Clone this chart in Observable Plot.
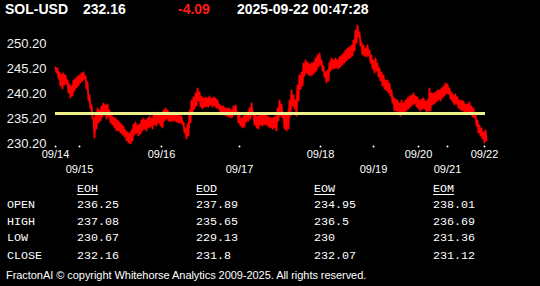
<!DOCTYPE html>
<html>
<head>
<meta charset="utf-8">
<script src="https://cdn.jsdelivr.net/npm/d3@7"></script>
<script src="https://cdn.jsdelivr.net/npm/@observablehq/plot@0.6"></script>
<style>
  html, body { margin: 0; padding: 0; background: #000; }
  #root { position: relative; width: 540px; height: 286px; background: #000; overflow: hidden; font-family: "Liberation Sans", Arial, sans-serif; color: #fff; }
  .hd { position: absolute; top: 1px; font-weight: bold; font-size: 14px; line-height: 16px; white-space: nowrap; }
  .tb { position: absolute; font-family: "Liberation Mono", "DejaVu Sans Mono", monospace; font-size: 11.7px; line-height: 14px; white-space: nowrap; color: #fff; }
  #chart { position: absolute; left: 0; top: 22px; }
  #foot { position: absolute; left: 6px; top: 268px; font-size: 11px; line-height: 14px; white-space: nowrap; letter-spacing: -0.05px; }
</style>
</head>
<body>
<div id="root"></div>
<script>
// ---- header ----
const symbol = "SOL-USD";
const lastPrice = "232.16";
const change = "-4.09";
const stamp = "2025-09-22 00:47:28";

// ---- price trace: band top/bottom of the noisy line, equally spaced samples ----
const hi = [245.4,245.2,244.4,244.0,244.2,243.8,242.8,242.0,241.6,242.8,243.2,243.6,243.8,244.2,244.4,243.6,242.4,239.8,237.8,235.2,
235.8,237.2,236.8,237.6,238.2,237.8,238.0,236.8,236.0,235.4,235.2,234.8,234.4,234.0,233.6,232.8,232.4,232.2,232.8,234.0,
234.4,233.8,234.0,234.8,235.2,234.8,235.2,235.6,235.2,235.8,236.2,236.4,235.8,236.2,236.8,237.2,236.8,236.4,236.2,236.4,
236.0,236.0,235.8,235.6,234.4,233.2,234.0,236.8,238.8,239.4,240.2,241.2,240.4,239.6,239.2,239.4,239.2,239.6,239.2,239.4,
239.2,238.8,238.0,237.6,237.6,237.2,237.2,237.2,236.8,237.6,237.8,236.4,235.8,235.2,235.6,236.2,236.4,237.2,238.2,236.4,
235.8,235.6,236.0,235.8,236.2,236.0,235.6,235.4,235.2,235.4,235.6,237.2,238.8,238.0,236.4,236.0,236.4,238.8,240.8,239.8,
238.8,241.8,243.8,244.4,246.2,246.8,246.4,246.0,246.2,246.4,247.2,247.8,248.2,246.8,245.6,244.4,244.8,246.4,247.2,246.8,
247.2,246.8,247.4,247.8,248.2,248.8,249.2,249.4,249.8,250.8,252.8,253.8,252.4,250.4,249.8,249.2,249.8,248.8,247.8,246.8,
247.2,246.2,245.2,244.4,243.8,242.8,242.8,242.2,240.8,239.4,239.0,238.8,238.2,238.8,238.2,238.8,239.2,239.6,239.8,240.2,
239.6,239.4,238.8,239.0,239.2,238.6,238.8,241.2,240.2,240.2,240.4,240.8,240.8,241.2,241.6,242.2,242.0,241.2,240.4,239.8,
240.0,239.4,238.8,238.8,238.6,238.0,238.0,238.4,237.6,237.2,235.8,234.8,233.8,233.2,232.4,232.8];
const lo = [244.4,243.2,241.8,241.2,242.0,242.2,240.4,239.4,239.8,240.8,241.4,241.8,242.4,242.8,243.2,241.2,238.8,237.2,235.2,231.4,
233.2,234.4,234.8,235.6,236.0,235.2,235.6,234.4,234.0,233.4,232.8,232.8,232.4,232.0,231.6,230.8,230.4,230.2,230.8,232.0,
232.4,231.8,232.2,232.8,233.2,232.8,233.4,233.6,233.2,234.0,233.8,234.4,233.8,233.4,234.8,235.2,234.8,234.6,234.8,234.8,
234.6,234.4,234.4,234.0,232.4,231.2,231.8,234.4,236.4,237.2,237.8,238.8,237.6,237.2,237.6,237.6,237.6,238.0,237.6,237.8,
237.4,237.2,236.4,236.0,236.0,235.8,235.6,235.4,235.6,236.0,236.4,234.4,233.8,233.4,233.6,234.6,234.8,235.2,236.0,234.0,
233.4,233.2,234.0,233.8,234.0,234.0,233.6,233.4,233.2,233.4,232.8,234.8,235.8,235.4,233.2,232.8,233.2,235.8,237.8,237.2,
235.8,238.8,241.2,241.8,243.8,244.4,244.0,243.8,244.0,244.4,244.8,245.6,246.0,244.8,243.6,242.4,242.8,244.8,245.2,245.2,
245.4,245.2,245.6,246.0,246.4,246.8,247.2,247.4,247.8,248.8,250.4,251.6,249.8,248.0,247.8,247.6,247.8,246.4,245.2,244.4,
244.8,243.6,242.8,241.8,241.2,240.8,240.4,239.8,238.4,236.8,236.8,236.4,235.8,236.4,236.2,236.8,237.2,237.6,238.0,238.2,
237.6,237.2,236.8,237.2,237.2,236.6,236.8,236.8,238.0,238.2,238.6,239.0,238.8,239.4,239.8,240.2,240.2,239.2,238.6,238.0,
238.2,237.4,237.0,236.8,236.6,236.2,236.2,236.4,235.6,235.4,233.8,232.4,231.8,231.2,230.4,230.8];

// ---- reference level (yellow) ----
const refLevel = [236.2];

// ---- axes ----
const yTicks = [230.2, 235.2, 240.2, 245.2, 250.2];
const daySample = [0, 24, 106, 184, 265, 318, 363, 392, 429];
const dayLabel = ["09/14","09/15","09/16","09/17","09/18","09/19","09/20","09/21","09/22"];

// ---- table ----
const tableCols = ["EOH", "EOD", "EOW", "EOM"];
const tableRows = ["OPEN", "HIGH", "LOW", "CLOSE"];
const eoh = ["236.25", "237.08", "230.67", "232.16"];
const eod = ["237.89", "235.65", "229.13", "231.8"];
const eow = ["234.95", "236.5", "230", "232.07"];
const eom = ["238.01", "236.69", "231.36", "231.12"];
const footer = "FractonAI \u00A9 copyright Whitehorse Analytics 2009-2025. All rights reserved.";

const root = document.getElementById("root");

// header
const hdItems = [[symbol, 5, "#fff"], [lastPrice, 83, "#fff"], [change, 178, "#ff1a1a"], [stamp, 237, "#fff"]];
for (const [t, x, c] of hdItems) {
  const s = document.createElement("div");
  s.className = "hd"; s.style.left = x + "px"; s.style.color = c; s.textContent = t;
  root.appendChild(s);
}

// chart
const trace = hi.flatMap((h, i) => [{s: 2 * i, p: h}, {s: 2 * i + 1, p: lo[i]}]);
const ticks = daySample.map((s, i) => ({s, label: dayLabel[i], row: i % 2}));

const chart = Plot.plot({
  width: 540,
  height: 158,
  marginLeft: 55,
  marginRight: 55,
  marginTop: 21,
  marginBottom: 37,
  style: {background: "#000", color: "#fff", fontFamily: "Liberation Sans, Arial, sans-serif", overflow: "visible"},
  x: {domain: [0, 430], axis: null},
  y: {domain: [230.2, 250.2], axis: null},
  marks: [
    Plot.axisY(yTicks, {tickSize: 0, tickPadding: 9, tickFormat: d3.format(".2f"), fontSize: 13, fill: "#f2f2f2", label: null}),
    Plot.line(trace, {x: "s", y: "p", stroke: "#ff0000", strokeWidth: 1.9}),
    Plot.ruleY(refLevel, {stroke: "#eef08a", strokeWidth: 3}),
    Plot.dot(ticks, {x: "s", frameAnchor: "bottom", dy: 3, r: 1, fill: "#fff", stroke: null}),
    Plot.text(ticks.filter(d => d.row === 0), {x: "s", text: "label", frameAnchor: "bottom", dy: 14, fontSize: 11, fill: "#fff"}),
    Plot.text(ticks.filter(d => d.row === 1), {x: "s", text: "label", frameAnchor: "bottom", dy: 29, fontSize: 11, fill: "#fff"})
  ]
});
const wrap = document.createElement("div");
wrap.id = "chart";
wrap.appendChild(chart);
root.appendChild(wrap);

// table
const colX = [77, 196, 314, 433];
const rowY = [198, 215, 231, 249];
const colVals = [eoh, eod, eow, eom];
tableCols.forEach((c, j) => {
  const d = document.createElement("div");
  d.className = "tb"; d.style.left = colX[j] + "px"; d.style.top = "182px";
  d.style.textDecoration = "underline"; d.style.textUnderlineOffset = "2px";
  d.textContent = c; root.appendChild(d);
});
tableRows.forEach((r, i) => {
  const d = document.createElement("div");
  d.className = "tb"; d.style.left = "7px"; d.style.top = rowY[i] + "px";
  d.textContent = r; root.appendChild(d);
  colVals.forEach((vals, j) => {
    const v = document.createElement("div");
    v.className = "tb"; v.style.left = colX[j] + "px"; v.style.top = rowY[i] + "px";
    v.textContent = vals[i]; root.appendChild(v);
  });
});
const f = document.createElement("div");
f.id = "foot"; f.textContent = footer; root.appendChild(f);
</script>
</body>
</html>
